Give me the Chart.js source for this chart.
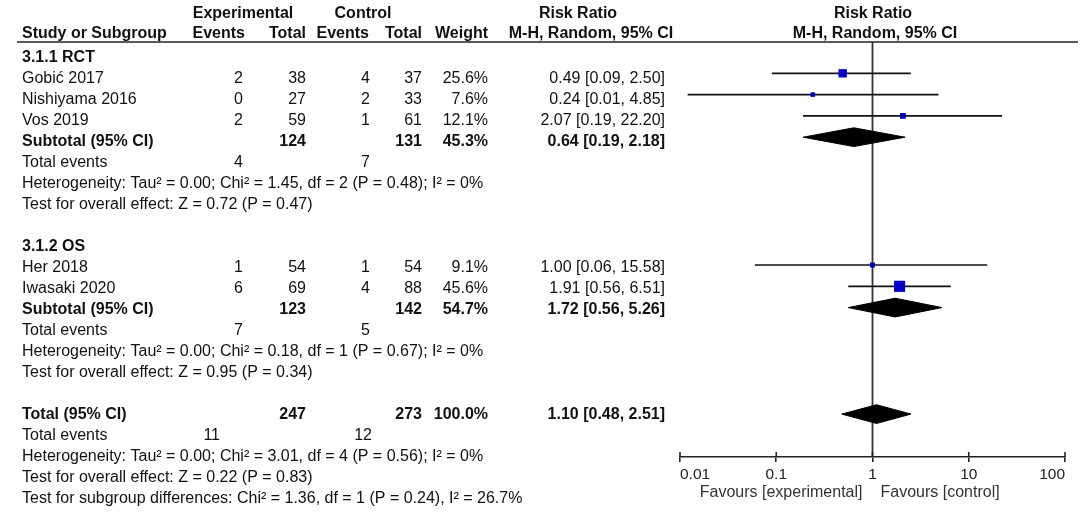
<!DOCTYPE html>
<html>
<head>
<meta charset="utf-8">
<script src="https://cdn.jsdelivr.net/npm/chart.js@4.4.1/dist/chart.umd.min.js"></script>
<style>
  html, body { margin: 0; padding: 0; background: #fff; }
  #wrap { width: 1084px; height: 523px; }
</style>
</head>
<body>
<div id="wrap"><canvas id="forest" width="1084" height="523"></canvas></div>
<script>
// ---- data ----
const groupNames = ['3.1.1 RCT', '3.1.2 OS'];
const groupRows = [-1, 8];

const studyNames = ['Gobić 2017', 'Nishiyama 2016', 'Vos 2019', 'Her 2018', 'Iwasaki 2020'];
const studyRows = [0, 1, 2, 9, 10];
const expEvents = [2, 0, 2, 1, 6];
const expTotal = [38, 27, 59, 54, 69];
const ctrlEvents = [4, 2, 1, 1, 4];
const ctrlTotal = [37, 33, 61, 54, 88];
const weights = [25.6, 7.6, 12.1, 9.1, 45.6];
const studyRR = [0.49, 0.24, 2.07, 1.00, 1.91];
const studyLo = [0.09, 0.012, 0.19, 0.06, 0.56];
const studyHi = [2.50, 4.85, 22.20, 15.58, 6.51];

const poolNames = ['Subtotal (95% CI)', 'Subtotal (95% CI)', 'Total (95% CI)'];
const poolRows = [3, 11, 16];
const poolExpTotal = [124, 123, 247];
const poolCtrlTotal = [131, 142, 273];
const poolWeight = [45.3, 54.7, 100.0];
const poolRR = [0.64, 1.72, 1.10];
const poolLo = [0.19, 0.56, 0.48];
const poolHi = [2.18, 5.26, 2.51];

const eventRows = [4, 12, 17];
const eventsExp = [4, 7, 11];
const eventsCtrl = [7, 5, 12];

const hetRows = [5, 13, 18];
const hetText = [
  'Heterogeneity: Tau² = 0.00; Chi² = 1.45, df = 2 (P = 0.48); I² = 0%',
  'Heterogeneity: Tau² = 0.00; Chi² = 0.18, df = 1 (P = 0.67); I² = 0%',
  'Heterogeneity: Tau² = 0.00; Chi² = 3.01, df = 4 (P = 0.56); I² = 0%'
];
const effectRows = [6, 14, 19];
const effectText = [
  'Test for overall effect: Z = 0.72 (P = 0.47)',
  'Test for overall effect: Z = 0.95 (P = 0.34)',
  'Test for overall effect: Z = 0.22 (P = 0.83)'
];
const subgroupRow = 20;
const subgroupText = 'Test for subgroup differences: Chi² = 1.36, df = 1 (P = 0.24), I² = 26.7%';

const tickValues = [0.01, 0.1, 1, 10, 100];
const tickLabels = ['0.01', '0.1', '1', '10', '100'];

// ---- layout ----
const FONT = '"Liberation Sans", Arial, sans-serif';
const FS = 16;
const plotTop = 42, plotBottom = 457, row0 = 73.3, rowStep = 21.3;
const yMin = (plotTop - row0) / rowStep;
const yMax = (plotBottom - row0) / rowStep;
const textRow0 = 79, textStep = 21;
const textY = r => textRow0 + textStep * r;
const colExpEv = 243, colExpTot = 306, colCtrlEv = 370, colCtrlTot = 422, colWeight = 488, colRR = 665;
const eventsExpX = [243, 243, 220];

const datasets = [];

// line of no effect
datasets.push({
  data: [{ x: 1, y: yMin }, { x: 1, y: yMax }],
  borderColor: '#333', borderWidth: 1.8, pointRadius: 0, order: 10
});

// confidence intervals
studyNames.forEach((n, i) => {
  datasets.push({
    data: [{ x: studyLo[i], y: studyRows[i] }, { x: studyHi[i], y: studyRows[i] }],
    borderColor: '#111', borderWidth: 1.7, pointRadius: 0, order: 5
  });
});

// study squares, side grows with sqrt(weight)
datasets.push({
  data: studyRR.map((v, i) => ({ x: v, y: studyRows[i] })),
  showLine: false,
  pointStyle: 'rect',
  pointRadius: weights.map(w => 1.65 * Math.sqrt(w) / Math.SQRT2),
  pointBackgroundColor: '#0000c8',
  pointBorderColor: '#0000c8',
  pointBorderWidth: 0,
  order: 1
});

// pooled diamonds
poolRR.forEach((v, i) => {
  const r = poolRows[i];
  datasets.push({
    data: [
      { x: poolLo[i], y: r }, { x: v, y: r - 0.44 }, { x: poolHi[i], y: r },
      { x: v, y: r + 0.44 }, { x: poolLo[i], y: r }
    ],
    borderColor: '#000', borderWidth: 1, backgroundColor: '#000',
    fill: 'shape', pointRadius: 0, tension: 0, order: 3
  });
});

// table text, header rule and tick stubs
const tablePlugin = {
  id: 'table',
  afterDraw(chart) {
    const ctx = chart.ctx;
    const xs = chart.scales.x;
    ctx.save();
    ctx.fillStyle = '#111';
    ctx.textBaseline = 'middle';
    function t(s, x, y, align, bold) {
      ctx.font = (bold ? 'bold ' : '') + FS + 'px ' + FONT;
      ctx.textAlign = align;
      ctx.fillText(s, x, y);
    }

    // headers
    t('Experimental', 243, 14, 'center', true);
    t('Control', 363, 14, 'center', true);
    t('Risk Ratio', 578, 14, 'center', true);
    t('Risk Ratio', 873, 14, 'center', true);
    t('Study or Subgroup', 22, 34, 'left', true);
    t('Events', 245, 34, 'right', true);
    t('Total', 306, 34, 'right', true);
    t('Events', 369, 34, 'right', true);
    t('Total', 422, 34, 'right', true);
    t('Weight', 488, 34, 'right', true);
    t('M-H, Random, 95% CI', 591, 34, 'center', true);
    t('M-H, Random, 95% CI', 875, 34, 'center', true);

    groupNames.forEach((g, i) => t(g, 22, textY(groupRows[i]), 'left', true));

    studyNames.forEach((n, i) => {
      const y = textY(studyRows[i]);
      t(n, 22, y, 'left', false);
      t(String(expEvents[i]), colExpEv, y, 'right', false);
      t(String(expTotal[i]), colExpTot, y, 'right', false);
      t(String(ctrlEvents[i]), colCtrlEv, y, 'right', false);
      t(String(ctrlTotal[i]), colCtrlTot, y, 'right', false);
      t(weights[i].toFixed(1) + '%', colWeight, y, 'right', false);
      t(studyRR[i].toFixed(2) + ' [' + studyLo[i].toFixed(2) + ', ' + studyHi[i].toFixed(2) + ']', colRR, y, 'right', false);
    });

    poolNames.forEach((n, i) => {
      const y = textY(poolRows[i]);
      t(n, 22, y, 'left', true);
      t(String(poolExpTotal[i]), colExpTot, y, 'right', true);
      t(String(poolCtrlTotal[i]), colCtrlTot, y, 'right', true);
      t(poolWeight[i].toFixed(1) + '%', colWeight, y, 'right', true);
      t(poolRR[i].toFixed(2) + ' [' + poolLo[i].toFixed(2) + ', ' + poolHi[i].toFixed(2) + ']', colRR, y, 'right', true);
    });

    eventRows.forEach((r, i) => {
      const y = textY(r);
      t('Total events', 22, y, 'left', false);
      t(String(eventsExp[i]), eventsExpX[i], y, 'right', false);
      t(String(eventsCtrl[i]), colCtrlEv + (i === 2 ? 2 : 0), y, 'right', false);
    });
    hetRows.forEach((r, i) => t(hetText[i], 22, textY(r), 'left', false));
    effectRows.forEach((r, i) => t(effectText[i], 22, textY(r), 'left', false));
    t(subgroupText, 22, textY(subgroupRow), 'left', false);

    // header rule
    ctx.strokeStyle = '#222';
    ctx.lineWidth = 1.6;
    ctx.beginPath();
    ctx.moveTo(17, plotTop);
    ctx.lineTo(1078, plotTop);
    ctx.stroke();

    // tick stubs above the axis line
    const yb = xs.top;
    tickValues.forEach(v => {
      const px = xs.getPixelForValue(v);
      ctx.beginPath();
      ctx.moveTo(px, yb - 5);
      ctx.lineTo(px, yb);
      ctx.stroke();
    });

    // favours labels
    const p1 = xs.getPixelForValue(1);
    ctx.fillStyle = '#333';
    ctx.font = FS + 'px ' + FONT;
    ctx.textAlign = 'right';
    ctx.fillText('Favours [experimental]', p1 - 10, 493);
    ctx.textAlign = 'left';
    ctx.fillText('Favours [control]', p1 + 8, 493);
    ctx.restore();
  }
};

new Chart(document.getElementById('forest'), {
  type: 'line',
  data: { datasets: datasets },
  options: {
    responsive: false,
    animation: false,
    events: [],
    layout: { padding: { left: 680, right: 19, top: plotTop, bottom: 0 } },
    plugins: { legend: { display: false }, tooltip: { enabled: false } },
    scales: {
      x: {
        type: 'logarithmic',
        min: 0.01,
        max: 100,
        afterBuildTicks: s => { s.ticks = tickValues.map(v => ({ value: v })); },
        afterFit: s => { s.height = 523 - plotBottom; },
        ticks: {
          callback: (v, i) => tickLabels[i],
          align: 'inner',
          autoSkip: false,
          maxRotation: 0,
          padding: 3,
          color: '#222',
          font: { family: FONT, size: 15.5 }
        },
        grid: { drawOnChartArea: false, drawTicks: true, tickLength: 5, color: '#222', lineWidth: 1.6 },
        border: { display: true, color: '#222', width: 1.6 }
      },
      y: { type: 'linear', reverse: true, min: yMin, max: yMax, display: false }
    }
  },
  plugins: [tablePlugin]
});
</script>
</body>
</html>
